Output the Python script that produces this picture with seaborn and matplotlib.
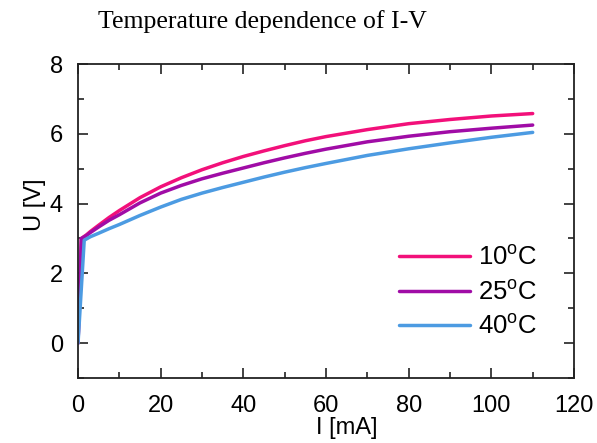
import numpy as np
import pandas as pd
import matplotlib
matplotlib.use("Agg")
import matplotlib.pyplot as plt
import seaborn as sns
from matplotlib.ticker import MultipleLocator

# Daten
i_10 = [0, 0.8, 2, 3, 5, 7.5, 10, 15, 20, 25, 30, 35, 40, 45, 50, 55, 60, 70, 80, 90, 100, 110]
u_10 = [0, 3.0, 3.1, 3.2, 3.38, 3.6, 3.8, 4.17, 4.48, 4.74, 4.97, 5.17, 5.35, 5.51, 5.66, 5.80, 5.92, 6.12, 6.29, 6.41, 6.51, 6.58]
i_25 = [0, 0.8, 2, 3, 5, 7.5, 10, 15, 20, 25, 30, 35, 40, 45, 50, 55, 60, 70, 80, 90, 100, 110]
u_25 = [0, 3.0, 3.08, 3.17, 3.33, 3.52, 3.68, 4.02, 4.30, 4.52, 4.71, 4.87, 5.02, 5.17, 5.31, 5.44, 5.56, 5.77, 5.93, 6.06, 6.16, 6.25]
i_40 = [0, 1.5, 3, 5, 7.5, 10, 15, 20, 25, 30, 35, 40, 45, 50, 55, 60, 70, 80, 90, 100, 110]
u_40 = [0, 2.95, 3.05, 3.15, 3.28, 3.40, 3.66, 3.90, 4.12, 4.30, 4.46, 4.61, 4.76, 4.90, 5.03, 5.15, 5.38, 5.57, 5.74, 5.90, 6.04]
labels = [r"10$^{\rm o}$C", r"25$^{\rm o}$C", r"40$^{\rm o}$C"]
farben = ["#F2107A", "#A00CA6", "#4C9BE2"]

sns.set_style("ticks")
plt.rcParams["font.family"] = ["Liberation Sans", "DejaVu Sans"]
plt.rcParams["mathtext.fontset"] = "custom"
plt.rcParams["mathtext.rm"] = "Liberation Sans"
plt.rcParams["text.color"] = "black"
plt.rcParams["axes.labelcolor"] = "black"
plt.rcParams["xtick.labelcolor"] = "black"
plt.rcParams["ytick.labelcolor"] = "black"

fig = plt.figure(figsize=(5.97, 4.43), dpi=100)
ax = fig.add_axes([0.1307, 0.1467, 0.8308, 0.7088])

for x, y, lab, c in zip([i_10, i_25, i_40], [u_10, u_25, u_40], labels, farben):
    df = pd.DataFrame({"I": x, "U": y})
    sns.lineplot(data=df, x="I", y="U", ax=ax, color=c, linewidth=2.5, label=lab,
                 sort=False, estimator=None)

ax.set_xlim(0, 120)
ax.set_ylim(-1, 8)
ax.xaxis.set_major_locator(MultipleLocator(20))
ax.xaxis.set_minor_locator(MultipleLocator(10))
ax.yaxis.set_major_locator(MultipleLocator(2))
ax.yaxis.set_minor_locator(MultipleLocator(1))
ax.tick_params(which="both", direction="in", top=True, right=True, width=1.2, color="#222222")
ax.tick_params(which="major", length=7, labelsize=17)
ax.tick_params(axis="x", which="major", pad=12)
ax.tick_params(axis="y", which="major", pad=11)
ax.tick_params(which="minor", length=4)
for s in ax.spines.values():
    s.set_linewidth(1.3)
    s.set_color("#222222")

ax.set_xlabel("I [mA]", fontsize=17, va="center")
ax.set_ylabel("U [V]", fontsize=17, va="center")
ax.xaxis.set_label_coords(0.542, -0.16)
ax.yaxis.set_label_coords(-0.087, 0.551)

leg = ax.legend(loc="lower right", frameon=False, fontsize=18.5, handlelength=2.75,
                handletextpad=0.3, labelspacing=0.38, bbox_to_anchor=(0.972, 0.05))

fig.text(0.44, 1 - 22 / 443, "Temperature dependence of I-V", ha="center", va="center",
         fontsize=18.5, family=["Liberation Serif", "DejaVu Serif"])

fig.savefig("out.png", dpi=100)
